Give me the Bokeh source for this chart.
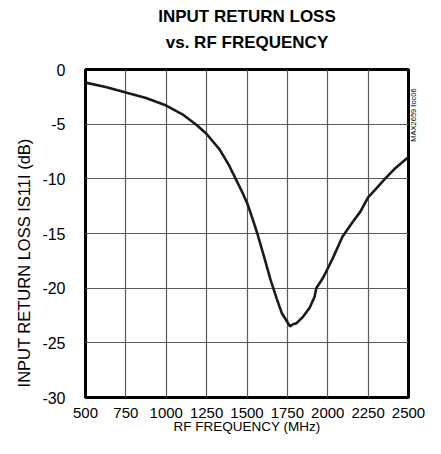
import math
from bokeh.plotting import figure
from bokeh.models import FixedTicker, Range1d, ColumnDataSource, Title, LinearAxis
from bokeh.embed import file_html
from bokeh.resources import INLINE

# ---- data ----
freq_mhz = [500, 625, 750, 875, 1000, 1100, 1190, 1250, 1330, 1390, 1430, 1470,
            1503, 1533, 1564, 1605, 1645, 1685, 1716, 1746, 1766, 1785, 1807,
            1848, 1888, 1918, 1929, 1969, 2000, 2030, 2091, 2152, 2202, 2250,
            2300, 2354, 2420, 2500]
s11_db = [-1.2, -1.6, -2.1, -2.6, -3.3, -4.1, -5.1, -5.9, -7.3, -8.8, -10.0, -11.2,
          -12.3, -13.6, -15.0, -17.1, -19.2, -21.0, -22.3, -23.0, -23.5, -23.3, -23.2,
          -22.6, -21.8, -20.8, -20.0, -19.1, -18.2, -17.3, -15.3, -14.0, -13.0, -11.7,
          -10.9, -10.0, -9.0, -8.0]
x_ticks = [500, 750, 1000, 1250, 1500, 1750, 2000, 2250, 2500]
y_ticks = [0, -5, -10, -15, -20, -25, -30]

title_1 = "INPUT RETURN LOSS"
title_2 = "vs. RF FREQUENCY"
x_label = "RF FREQUENCY (MHz)"
y_label = "INPUT RETURN LOSS IS11I (dB)"
side_note = "MAX2659 toc06"

FONT = "Liberation Sans"

p = figure(width=425, height=438, output_backend="svg", toolbar_location=None,
           title=None,
           x_range=Range1d(500, 2500), y_range=Range1d(-30, 0),
           min_border_left=85, min_border_right=12, min_border_top=69,
           min_border_bottom=41)
p.background_fill_color = "white"
p.border_fill_color = "white"
p.outline_line_color = "black"
p.outline_line_width = 3

HIDDEN = dict(axis_line_color=None, major_tick_line_color=None,
              minor_tick_line_color=None, major_tick_out=0, major_tick_in=0,
              minor_tick_out=0, minor_tick_in=0)

for ax in (p.xaxis, p.yaxis):
    for k, v in HIDDEN.items():
        setattr(ax, k, v)
    ax.major_label_text_font = FONT
    ax.major_label_text_color = "black"
    ax.axis_label_text_font = FONT
    ax.axis_label_text_font_style = "normal"
    ax.axis_label_text_color = "black"
p.xaxis.ticker = FixedTicker(ticks=x_ticks)
p.yaxis.ticker = FixedTicker(ticks=y_ticks)
p.yaxis.major_label_overrides = {t: str(t) for t in y_ticks}
p.xaxis.major_label_text_font_size = "15px"
p.yaxis.major_label_text_font_size = "16px"
p.xaxis.major_label_standoff = 10
p.yaxis.major_label_standoff = 20
p.xaxis.axis_label = x_label
p.xaxis.axis_label_text_font_size = "13.5px"
p.xaxis.axis_label_standoff = -2

p.xgrid.ticker = FixedTicker(ticks=x_ticks)
p.ygrid.ticker = FixedTicker(ticks=y_ticks)
for g in (p.xgrid, p.ygrid):
    g.grid_line_color = "#5a5a5a"
    g.grid_line_width = 1.2

src = ColumnDataSource(dict(f=freq_mhz, s=s11_db))
p.line("f", "s", source=src, line_color="#1a1a1a", line_width=2.6)

# y-axis title, drawn as the rotated label of an outer, otherwise invisible left axis
ylabel_top = -6.3
ylabel_axis = LinearAxis(ticker=FixedTicker(ticks=[ylabel_top]),
                         major_label_overrides={ylabel_top: y_label},
                         major_label_orientation=math.pi / 2,
                         major_label_standoff=15,
                         major_label_text_font=FONT,
                         major_label_text_font_size="16.5px",
                         major_label_text_color="black", **HIDDEN)
p.add_layout(ylabel_axis, "left")

# side note as a rotated label of an otherwise invisible right axis
note_at = -6.6
note_axis = LinearAxis(ticker=FixedTicker(ticks=[note_at]),
                       major_label_overrides={note_at: side_note},
                       major_label_orientation=math.pi / 2,
                       major_label_standoff=5,
                       major_label_text_font=FONT,
                       major_label_text_font_size="7.5px",
                       major_label_text_color="black", **HIDDEN)
p.add_layout(note_axis, "right")

# titles stacked above the frame (first added = nearest to the frame)
p.add_layout(Title(text=" ", text_font_size="1px", standoff=15), "above")
p.add_layout(Title(text=title_2, align="center", text_font=FONT, text_font_style="bold",
                   text_font_size="17px", text_color="black", standoff=0), "above")
p.add_layout(Title(text=" ", text_font_size="1px", standoff=2), "above")
p.add_layout(Title(text=title_1, align="center", text_font=FONT, text_font_style="bold",
                   text_font_size="17px", text_color="black", standoff=0), "above")

open("out.html", "w").write(file_html(p, INLINE))
